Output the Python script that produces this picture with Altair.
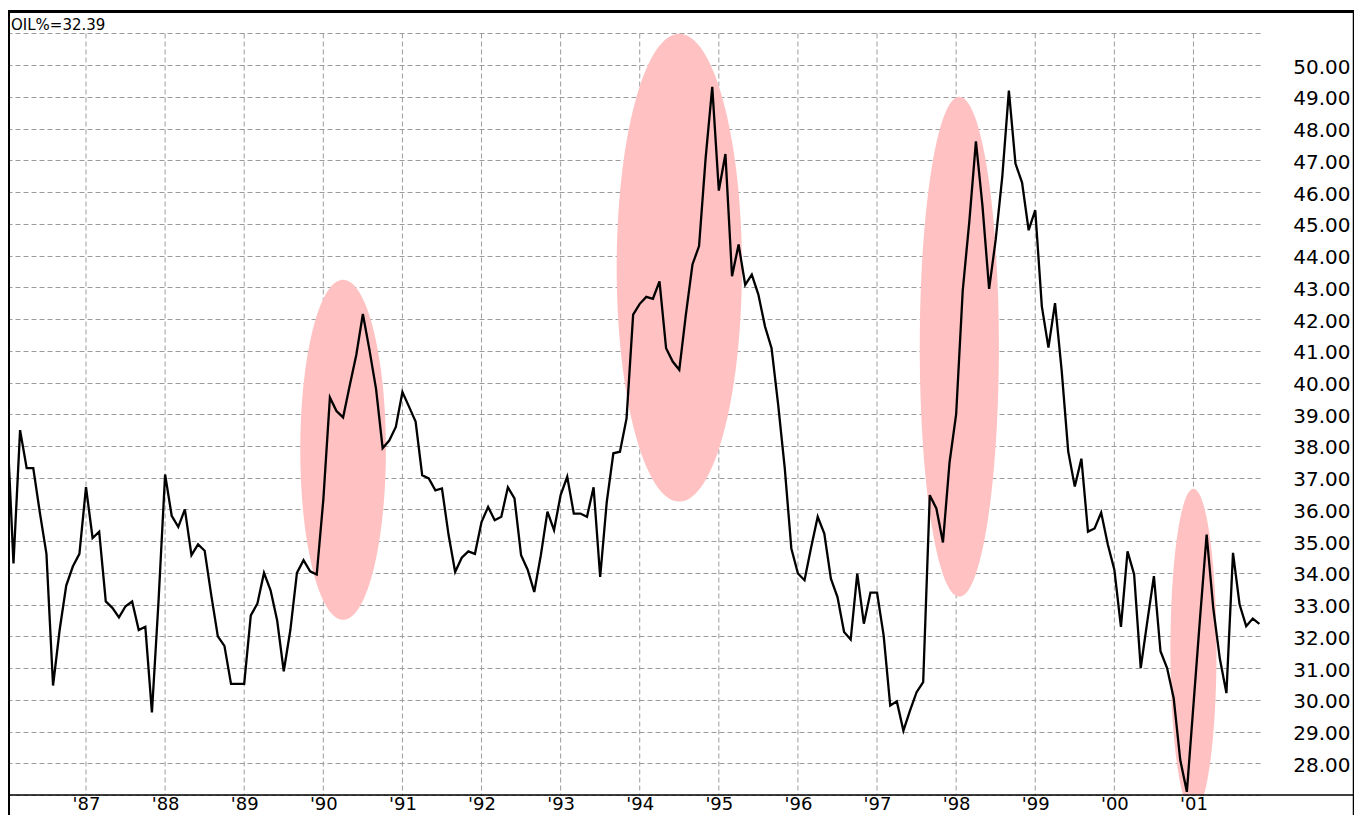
import altair as alt
import pandas as pd

# ------------------------------------------------------------------ data
months = pd.date_range("1986-01-01", "2001-11-01", freq="MS")

oil_pct = [
    # 1986
    38.8, 34.3, 38.5, 37.3, 37.3, 35.9, 34.6, 30.45, 32.2, 33.6, 34.2, 34.6,
    # 1987
    36.7, 35.1, 35.3, 33.1, 32.9, 32.6, 32.95, 33.1, 32.2, 32.3, 29.6, 33.1,
    # 1988
    37.1, 35.8, 35.45, 36.0, 34.56, 34.9, 34.7, 33.3, 32.0, 31.7, 30.5, 30.5,
    # 1989
    30.5, 32.66, 33.03, 34.0, 33.45, 32.5, 30.9, 32.2, 34.0, 34.4, 34.05, 33.95,
    # 1990
    36.3, 39.53, 39.1, 38.9, 39.9, 40.87, 42.16, 41.03, 39.8, 37.93, 38.17, 38.6,
    # 1991
    39.7, 39.24, 38.77, 37.08, 36.98, 36.6, 36.66, 35.2, 34.03, 34.48, 34.68, 34.6,
    # 1992
    35.6, 36.08, 35.66, 35.77, 36.7, 36.35, 34.56, 34.1, 33.4, 34.56, 35.93, 35.35,
    # 1993
    36.45, 37.03, 35.87, 35.87, 35.77, 36.7, 33.87, 36.24, 37.77, 37.82, 38.87, 42.14,
    # 1994
    42.48, 42.7, 42.64, 43.19, 41.08, 40.66, 40.4, 42.14, 43.72, 44.3, 47.08, 49.32,
    # 1995
    46.05, 47.2, 43.35, 44.35, 43.08, 43.4, 42.77, 41.77, 41.08, 39.3, 37.3, 34.77,
    # 1996
    33.98, 33.77, 34.8, 35.77, 35.24, 33.82, 33.24, 32.14, 31.9, 33.98, 32.4, 33.38,
    # 1997
    33.38, 32.03, 29.82, 29.95, 29.03, 29.66, 30.24, 30.56, 36.45, 36.03, 34.96, 37.48,
    # 1998
    39.0, 42.9, 45.08, 47.6, 45.55, 42.95, 44.5, 46.49, 49.2, 46.9, 46.3, 44.8,
    # 1999
    45.43, 42.4, 41.1, 42.5, 40.4, 37.83, 36.72, 37.6, 35.3, 35.4, 35.9, 34.9,
    # 2000
    34.1, 32.3, 34.68, 33.95, 31.0, 32.47, 33.9, 31.53, 31.0, 30.05, 28.1, 27.1,
    # 2001
    29.84, 32.58, 35.21, 32.9, 31.3, 30.21, 34.63, 33.0, 32.32, 32.56, 32.39,
]

year_ticks = list(range(1987, 2002))
value_grid = list(range(27, 52))

# highlighted episodes: centre (decimal year, value), half width (months), half height (value units)
hl_center_year = [1990.25, 1994.50, 1998.04, 2001.00]
hl_center_value = [37.88, 43.62, 41.13, 31.55]
hl_half_months = [6.5, 9.5, 6.0, 3.5]
hl_half_value = [5.36, 7.37, 7.88, 5.10]

# ------------------------------------------------------------------ layout
W, H = 1251, 784
X_DOMAIN = [1986.0266, 2001.8412]
Y_DOMAIN = [27.0, 51.709]
FONT = "DejaVu Sans"
GRID = "#9c9c9c"
DASH = [5, 3]
PINK = "#ffc1c1"

t = [d.year + (d.month - 1) / 12 for d in months]
df = pd.DataFrame({"t": t, "oil": oil_pct})

px_per_year = W / (X_DOMAIN[1] - X_DOMAIN[0])
px_per_unit = H / (Y_DOMAIN[1] - Y_DOMAIN[0])
k = 0.5523
rows = []
for cx, cy, hm, hv in zip(hl_center_year, hl_center_value, hl_half_months, hl_half_value):
    rx = hm / 12 * px_per_year
    ry = hv * px_per_unit
    a = rx / ry
    path = (
        f"M 0 -1 C {k*a:.4f} -1 {a:.4f} {-k:.4f} {a:.4f} 0 "
        f"C {a:.4f} {k:.4f} {k*a:.4f} 1 0 1 "
        f"C {-k*a:.4f} 1 {-a:.4f} {k:.4f} {-a:.4f} 0 "
        f"C {-a:.4f} {-k:.4f} {-k*a:.4f} -1 0 -1 Z"
    )
    rows.append({"t": cx, "oil": cy, "shape": path, "size": (2 * ry) ** 2})
ell = pd.DataFrame(rows)

x_scale = alt.Scale(domain=X_DOMAIN, nice=False, zero=False)
y_scale = alt.Scale(domain=Y_DOMAIN, nice=False, zero=False)

x_axis = alt.Axis(
    values=year_ticks,
    labelExpr="\"'\" + format(datum.value % 100, '02d')",
    grid=False, domain=False, ticks=False, tickSize=0,
    labelFont=FONT, labelFontSize=18, labelColor="black",
    labelPadding=0, labelFlush=False, labelOverlap=False, title=None,
)
y_axis = alt.Axis(
    orient="right",
    values=value_grid,
    labelExpr="datum.value < 27.5 || datum.value > 50.5 ? '' : format(datum.value, '.2f')",
    grid=True, gridColor=GRID, gridDash=DASH, gridWidth=1,
    domain=False, ticks=False, tickSize=0,
    labelAlign="right", labelPadding=90, labelOffset=2,
    labelFont=FONT, labelFontSize=20, labelColor="black",
    labelFlush=False, labelOverlap=False, title=None,
)

dummy = pd.DataFrame({"k": [0]})

X = alt.X("t:Q", scale=x_scale, axis=x_axis)
Y = alt.Y("oil:Q", scale=y_scale, axis=y_axis)

vgrid = alt.Chart(pd.DataFrame({"t": year_ticks})).mark_rule(
    color=GRID, strokeDash=DASH, strokeWidth=1
).encode(
    x=X,
    y=alt.YDatum(51, scale=y_scale, axis=y_axis),
    y2=alt.Y2Datum(27),
)

ellipses = alt.Chart(ell).mark_point(
    filled=True, opacity=1, color=PINK, strokeWidth=0, clip=True
).encode(
    x=X,
    y=Y,
    shape=alt.Shape("shape:N", scale=None, legend=None),
    size=alt.Size("size:Q", scale=None, legend=None),
)

line = alt.Chart(df).mark_line(color="black", strokeWidth=2.3, clip=True).encode(
    x=X,
    y=Y,
)

label = alt.Chart(dummy).mark_text(
    align="left", baseline="alphabetic", font=FONT, fontSize=15, color="black"
).encode(
    x=alt.value(2), y=alt.value(18.5), text=alt.value(f"OIL%={oil_pct[-1]:.2f}")
)

top_border = alt.Chart(dummy).mark_rule(color="black", strokeWidth=3).encode(
    x=alt.value(-2), x2=alt.value(W + 100), y=alt.value(0.5)
)
left_border = alt.Chart(dummy).mark_rule(color="black", strokeWidth=2).encode(
    x=alt.value(0), y=alt.value(0), y2=alt.value(H + 40)
)
right_border = alt.Chart(dummy).mark_rule(color="black", strokeWidth=1.5).encode(
    x=alt.value(W + 93.5), y=alt.value(0), y2=alt.value(H + 40)
)
bottom_border = alt.Chart(dummy).mark_rule(color="black", strokeWidth=1.5).encode(
    x=alt.value(0), x2=alt.value(W + 93.5), y=alt.value(H)
)

chart = alt.layer(
    vgrid, ellipses, line, label, top_border, left_border, right_border, bottom_border
).properties(
    width=W,
    height=H,
    background="white",
    autosize=alt.AutoSizeParams(type="none"),
    padding={"left": 1, "top": 3, "right": 94, "bottom": 20},
).configure_view(strokeWidth=0, stroke="transparent")

chart.save("out.html", embed_options={"renderer": "svg", "actions": False})
